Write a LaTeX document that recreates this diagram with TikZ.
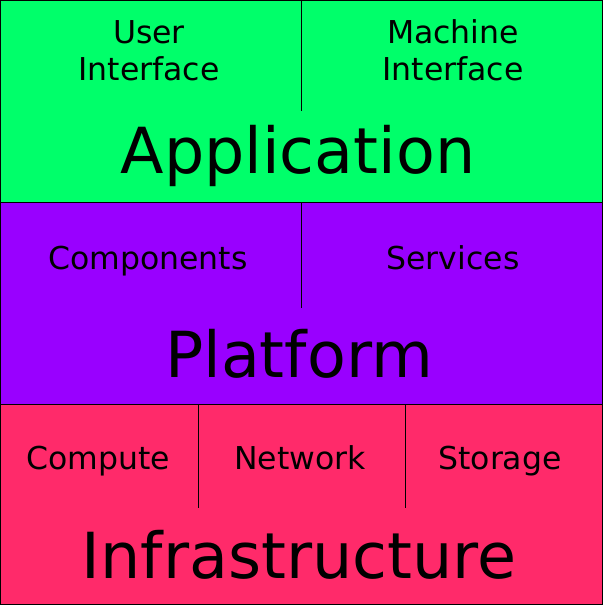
\documentclass[tikz,border=0pt]{standalone}
\usepackage{fontspec}
\setmainfont{DejaVu Sans}
\usetikzlibrary{positioning}

\definecolor{appgreen}{HTML}{00FF6A}
\definecolor{platpurple}{HTML}{9900FF}
\definecolor{infrapink}{HTML}{FF2A6A}

\tikzset{
  layer/.style={draw, line width=1pt, minimum width=602pt, minimum height=#1, inner sep=0pt, outer sep=0pt},
  part/.style={font=\fontsize{31.5}{37}\selectfont, align=center, anchor=base, inner sep=0pt},
  title/.style={font=\fontsize{63.5}{70}\selectfont, anchor=base, inner sep=0pt},
  cut/.style={line width=1pt}
}

\begin{document}
\begin{tikzpicture}[x=1pt, y=-1pt]
        \useasboundingbox (0,0) rectangle (603,605);
        \node[layer=202pt, fill=appgreen, anchor=north west]   (app)   at (0.5,0.5)          {};
        \node[layer=202pt, fill=platpurple, below=0pt of app]  (plat)                        {};
        \node[layer=200pt, fill=infrapink, below=0pt of plat]  (infra)                       {};

        \draw[cut] (app.north) -- ++(0,110);
        \draw[cut] (plat.north) -- ++(0,105);
        \draw[cut] ([xshift=197.5pt]infra.north west) -- ++(0,103);
        \draw[cut] ([xshift=404.5pt]infra.north west) -- ++(0,103);

        % two-line labels sit on their last line
        \node[part]  (ui)     at (149,80)  {User\\Interface};
        \node[part]  (mi)     at (453,80)  {Machine\\Interface};
        \node[title] (apptitle) at (298,173) {Application};

        \node[part]  (comp)   at (148,269) {Components};
        \node[part]  (serv)   at (453,269) {Services};
        \node[title] (plattitle) at (299,377) {Platform};

        \node[part]  (cpu)    at (98,469)  {Compute};
        \node[part]  (net)    at (300,469) {Network};
        \node[part]  (sto)    at (500,469) {Storage};
        \node[title] (infratitle) at (299,578) {Infrastructure};
\end{tikzpicture}
\end{document}
